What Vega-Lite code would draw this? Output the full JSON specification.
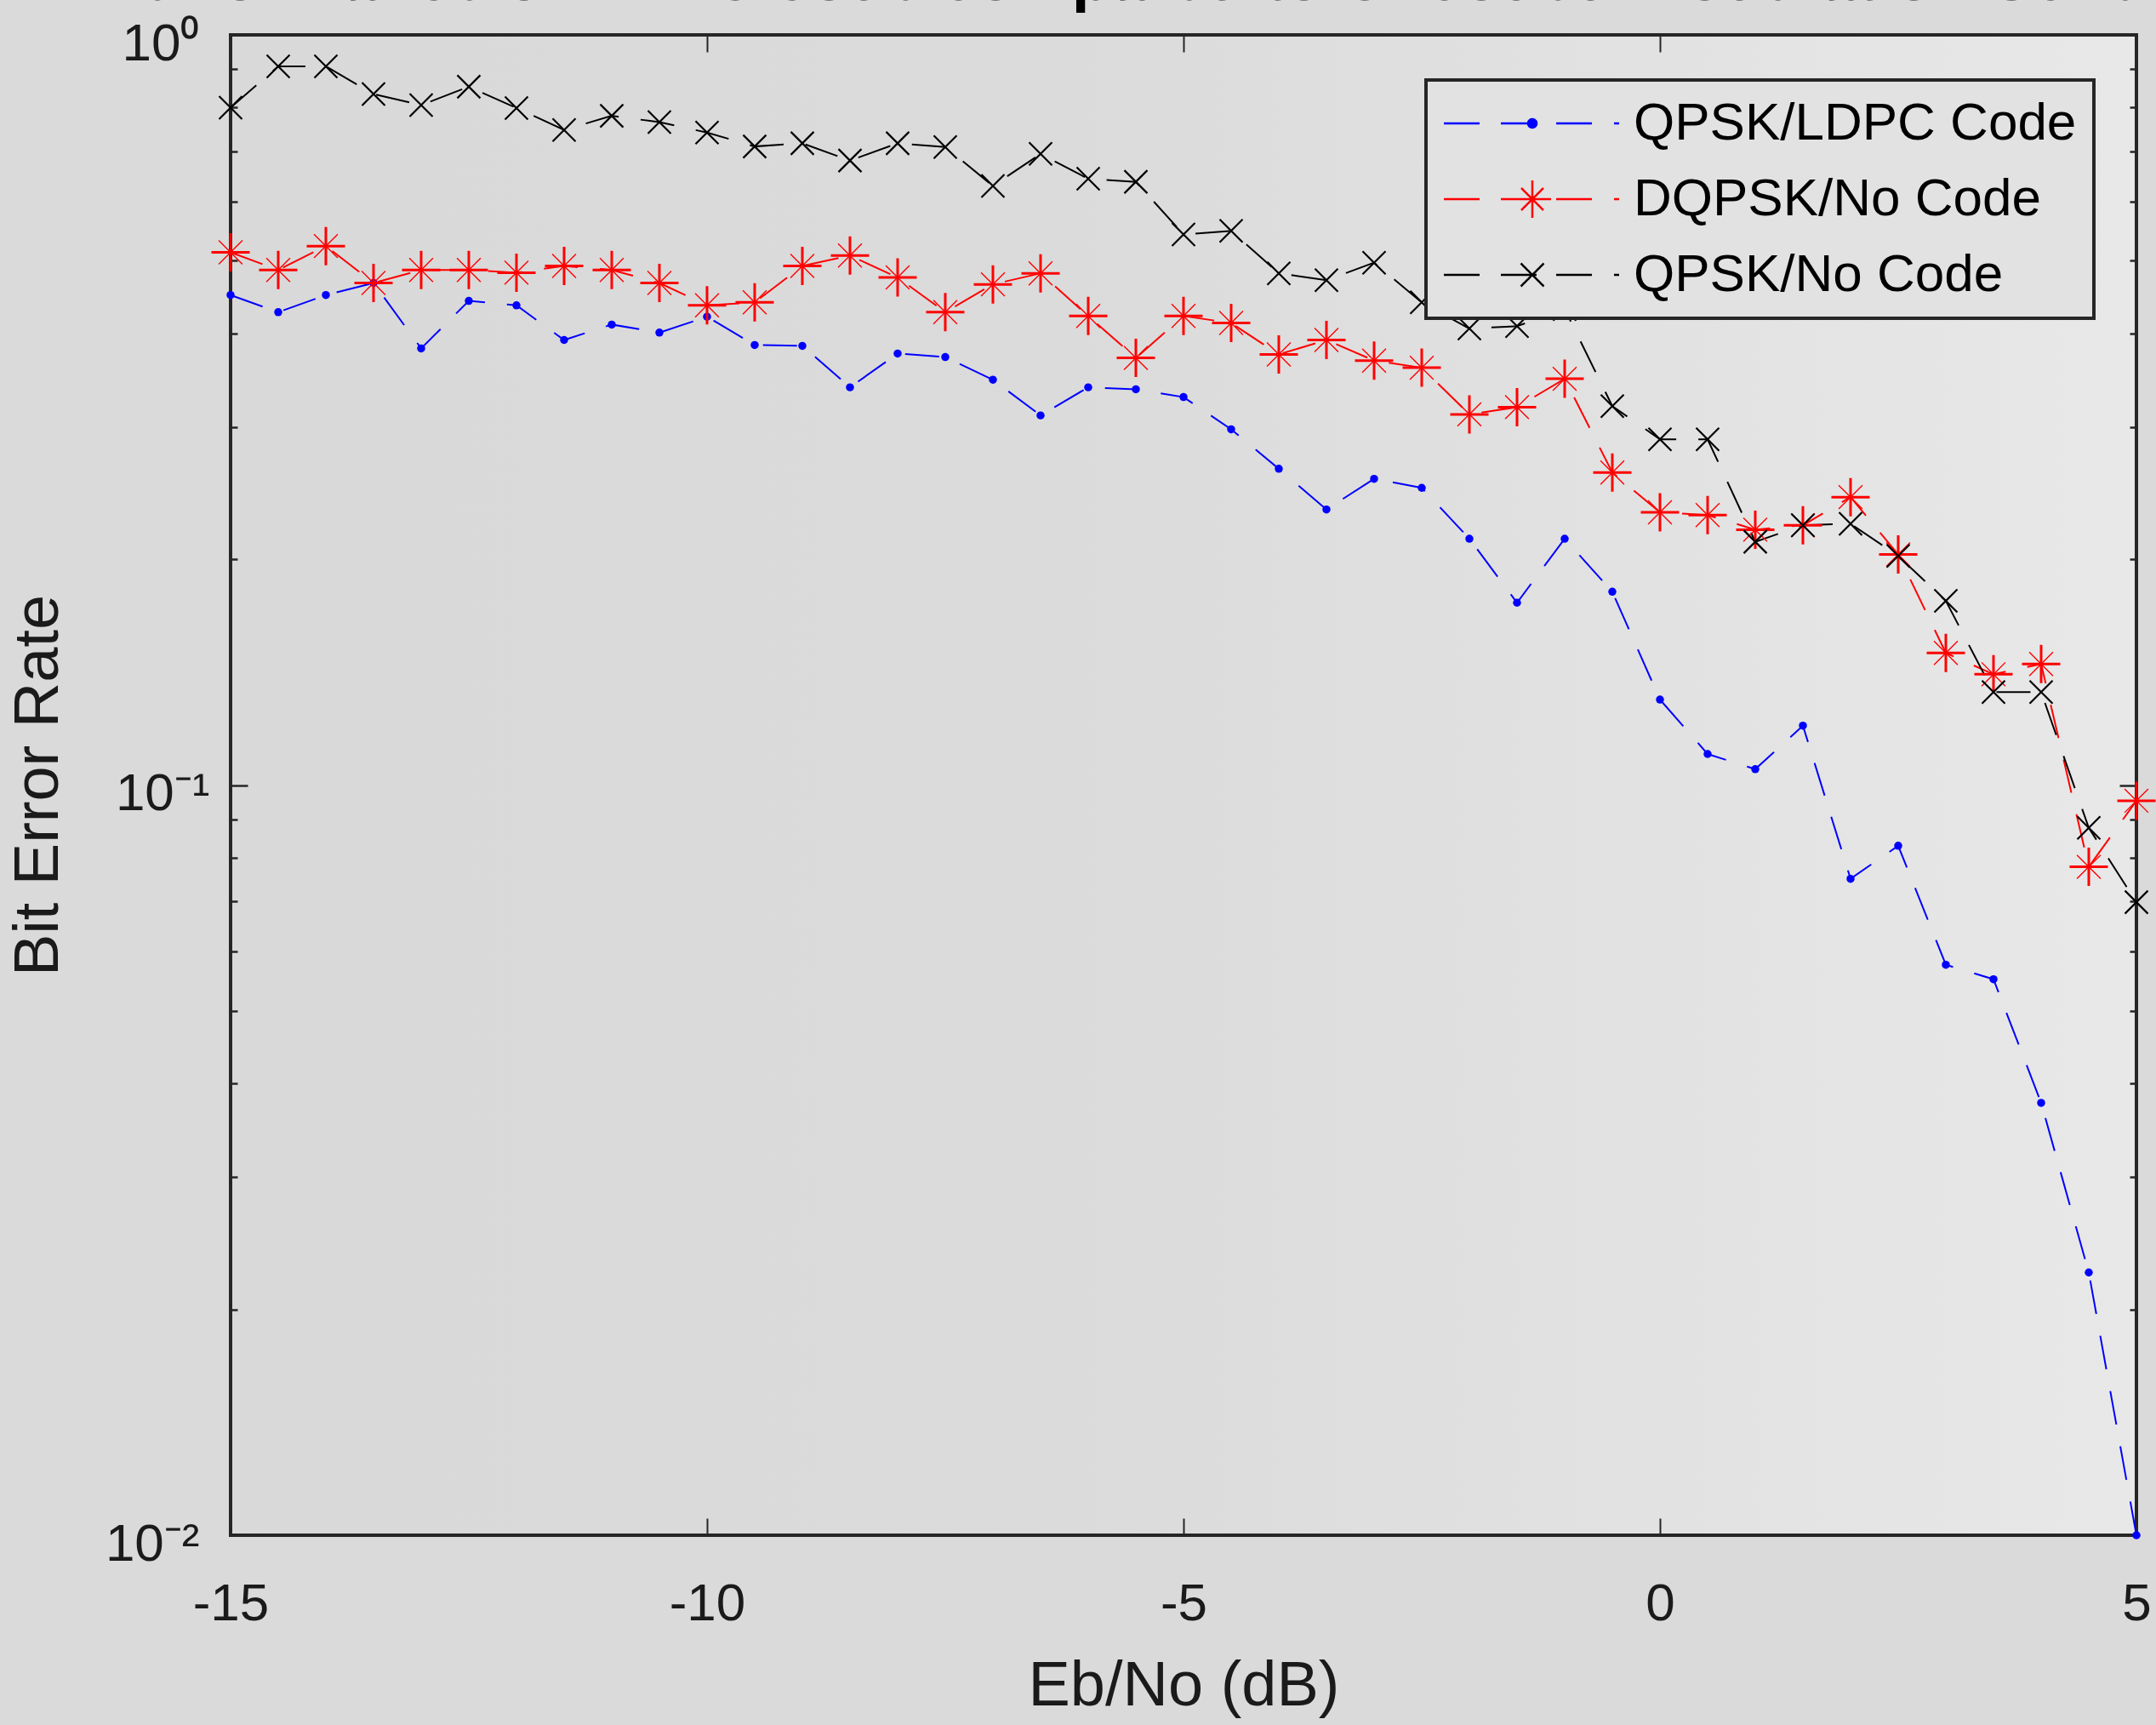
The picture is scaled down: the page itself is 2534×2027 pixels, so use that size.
{
  "$schema": "https://vega.github.io/schema/vega-lite/v6.json",
  "width": 2240,
  "height": 1763,
  "autosize": {"type": "none"},
  "padding": {"left": 271, "top": 41, "right": 23, "bottom": 223},
  "background": "#dadada",
  "title": {
    "text": "Performance of LDPC code compared to Uncoded Modulation Schemes",
    "anchor": "middle",
    "frame": "group",
    "font": "Liberation Sans",
    "fontSize": 75,
    "fontWeight": "bold",
    "color": "#000000",
    "baseline": "alphabetic",
    "offset": -27,
    "dy": 28
  },
  "datasets": {
    "ber": [
      {"series": "QPSK/LDPC Code", "ebno": -15, "ber": 0.450},
      {"series": "QPSK/LDPC Code", "ebno": -14.5, "ber": 0.427},
      {"series": "QPSK/LDPC Code", "ebno": -14, "ber": 0.450},
      {"series": "QPSK/LDPC Code", "ebno": -13.5, "ber": 0.467},
      {"series": "QPSK/LDPC Code", "ebno": -13, "ber": 0.382},
      {"series": "QPSK/LDPC Code", "ebno": -12.5, "ber": 0.442},
      {"series": "QPSK/LDPC Code", "ebno": -12, "ber": 0.436},
      {"series": "QPSK/LDPC Code", "ebno": -11.5, "ber": 0.392},
      {"series": "QPSK/LDPC Code", "ebno": -11, "ber": 0.411},
      {"series": "QPSK/LDPC Code", "ebno": -10.5, "ber": 0.401},
      {"series": "QPSK/LDPC Code", "ebno": -10, "ber": 0.421},
      {"series": "QPSK/LDPC Code", "ebno": -9.5, "ber": 0.386},
      {"series": "QPSK/LDPC Code", "ebno": -9, "ber": 0.385},
      {"series": "QPSK/LDPC Code", "ebno": -8.5, "ber": 0.339},
      {"series": "QPSK/LDPC Code", "ebno": -8, "ber": 0.376},
      {"series": "QPSK/LDPC Code", "ebno": -7.5, "ber": 0.372},
      {"series": "QPSK/LDPC Code", "ebno": -7, "ber": 0.347},
      {"series": "QPSK/LDPC Code", "ebno": -6.5, "ber": 0.311},
      {"series": "QPSK/LDPC Code", "ebno": -6, "ber": 0.339},
      {"series": "QPSK/LDPC Code", "ebno": -5.5, "ber": 0.337},
      {"series": "QPSK/LDPC Code", "ebno": -5, "ber": 0.329},
      {"series": "QPSK/LDPC Code", "ebno": -4.5, "ber": 0.298},
      {"series": "QPSK/LDPC Code", "ebno": -4, "ber": 0.264},
      {"series": "QPSK/LDPC Code", "ebno": -3.5, "ber": 0.233},
      {"series": "QPSK/LDPC Code", "ebno": -3, "ber": 0.256},
      {"series": "QPSK/LDPC Code", "ebno": -2.5, "ber": 0.249},
      {"series": "QPSK/LDPC Code", "ebno": -2, "ber": 0.213},
      {"series": "QPSK/LDPC Code", "ebno": -1.5, "ber": 0.175},
      {"series": "QPSK/LDPC Code", "ebno": -1, "ber": 0.213},
      {"series": "QPSK/LDPC Code", "ebno": -0.5, "ber": 0.181},
      {"series": "QPSK/LDPC Code", "ebno": 0, "ber": 0.130},
      {"series": "QPSK/LDPC Code", "ebno": 0.5, "ber": 0.110},
      {"series": "QPSK/LDPC Code", "ebno": 1, "ber": 0.105},
      {"series": "QPSK/LDPC Code", "ebno": 1.5, "ber": 0.120},
      {"series": "QPSK/LDPC Code", "ebno": 2, "ber": 0.075},
      {"series": "QPSK/LDPC Code", "ebno": 2.5, "ber": 0.083},
      {"series": "QPSK/LDPC Code", "ebno": 3, "ber": 0.0576},
      {"series": "QPSK/LDPC Code", "ebno": 3.5, "ber": 0.0551},
      {"series": "QPSK/LDPC Code", "ebno": 4, "ber": 0.0377},
      {"series": "QPSK/LDPC Code", "ebno": 4.5, "ber": 0.0224},
      {"series": "QPSK/LDPC Code", "ebno": 5, "ber": 0.0100},
      {"series": "DQPSK/No Code", "ebno": -15, "ber": 0.513},
      {"series": "DQPSK/No Code", "ebno": -14.5, "ber": 0.486},
      {"series": "DQPSK/No Code", "ebno": -14, "ber": 0.523},
      {"series": "DQPSK/No Code", "ebno": -13.5, "ber": 0.467},
      {"series": "DQPSK/No Code", "ebno": -13, "ber": 0.486},
      {"series": "DQPSK/No Code", "ebno": -12.5, "ber": 0.486},
      {"series": "DQPSK/No Code", "ebno": -12, "ber": 0.482},
      {"series": "DQPSK/No Code", "ebno": -11.5, "ber": 0.492},
      {"series": "DQPSK/No Code", "ebno": -11, "ber": 0.486},
      {"series": "DQPSK/No Code", "ebno": -10.5, "ber": 0.467},
      {"series": "DQPSK/No Code", "ebno": -10, "ber": 0.436},
      {"series": "DQPSK/No Code", "ebno": -9.5, "ber": 0.440},
      {"series": "DQPSK/No Code", "ebno": -9, "ber": 0.492},
      {"series": "DQPSK/No Code", "ebno": -8.5, "ber": 0.508},
      {"series": "DQPSK/No Code", "ebno": -8, "ber": 0.475},
      {"series": "DQPSK/No Code", "ebno": -7.5, "ber": 0.427},
      {"series": "DQPSK/No Code", "ebno": -7, "ber": 0.465},
      {"series": "DQPSK/No Code", "ebno": -6.5, "ber": 0.481},
      {"series": "DQPSK/No Code", "ebno": -6, "ber": 0.422},
      {"series": "DQPSK/No Code", "ebno": -5.5, "ber": 0.371},
      {"series": "DQPSK/No Code", "ebno": -5, "ber": 0.422},
      {"series": "DQPSK/No Code", "ebno": -4.5, "ber": 0.413},
      {"series": "DQPSK/No Code", "ebno": -4, "ber": 0.375},
      {"series": "DQPSK/No Code", "ebno": -3.5, "ber": 0.392},
      {"series": "DQPSK/No Code", "ebno": -3, "ber": 0.368},
      {"series": "DQPSK/No Code", "ebno": -2.5, "ber": 0.360},
      {"series": "DQPSK/No Code", "ebno": -2, "ber": 0.312},
      {"series": "DQPSK/No Code", "ebno": -1.5, "ber": 0.319},
      {"series": "DQPSK/No Code", "ebno": -1, "ber": 0.348},
      {"series": "DQPSK/No Code", "ebno": -0.5, "ber": 0.261},
      {"series": "DQPSK/No Code", "ebno": 0, "ber": 0.231},
      {"series": "DQPSK/No Code", "ebno": 0.5, "ber": 0.229},
      {"series": "DQPSK/No Code", "ebno": 1, "ber": 0.219},
      {"series": "DQPSK/No Code", "ebno": 1.5, "ber": 0.222},
      {"series": "DQPSK/No Code", "ebno": 2, "ber": 0.242},
      {"series": "DQPSK/No Code", "ebno": 2.5, "ber": 0.203},
      {"series": "DQPSK/No Code", "ebno": 3, "ber": 0.150},
      {"series": "DQPSK/No Code", "ebno": 3.5, "ber": 0.1405},
      {"series": "DQPSK/No Code", "ebno": 4, "ber": 0.145},
      {"series": "DQPSK/No Code", "ebno": 4.5, "ber": 0.0778},
      {"series": "DQPSK/No Code", "ebno": 5, "ber": 0.0953},
      {"series": "QPSK/No Code", "ebno": -15, "ber": 0.800},
      {"series": "QPSK/No Code", "ebno": -14.5, "ber": 0.908},
      {"series": "QPSK/No Code", "ebno": -14, "ber": 0.908},
      {"series": "QPSK/No Code", "ebno": -13.5, "ber": 0.834},
      {"series": "QPSK/No Code", "ebno": -13, "ber": 0.806},
      {"series": "QPSK/No Code", "ebno": -12.5, "ber": 0.853},
      {"series": "QPSK/No Code", "ebno": -12, "ber": 0.799},
      {"series": "QPSK/No Code", "ebno": -11.5, "ber": 0.747},
      {"series": "QPSK/No Code", "ebno": -11, "ber": 0.780},
      {"series": "QPSK/No Code", "ebno": -10.5, "ber": 0.765},
      {"series": "QPSK/No Code", "ebno": -10, "ber": 0.741},
      {"series": "QPSK/No Code", "ebno": -9.5, "ber": 0.710},
      {"series": "QPSK/No Code", "ebno": -9, "ber": 0.717},
      {"series": "QPSK/No Code", "ebno": -8.5, "ber": 0.680},
      {"series": "QPSK/No Code", "ebno": -8, "ber": 0.717},
      {"series": "QPSK/No Code", "ebno": -7.5, "ber": 0.709},
      {"series": "QPSK/No Code", "ebno": -7, "ber": 0.629},
      {"series": "QPSK/No Code", "ebno": -6.5, "ber": 0.694},
      {"series": "QPSK/No Code", "ebno": -6, "ber": 0.643},
      {"series": "QPSK/No Code", "ebno": -5.5, "ber": 0.637},
      {"series": "QPSK/No Code", "ebno": -5, "ber": 0.542},
      {"series": "QPSK/No Code", "ebno": -4.5, "ber": 0.548},
      {"series": "QPSK/No Code", "ebno": -4, "ber": 0.481},
      {"series": "QPSK/No Code", "ebno": -3.5, "ber": 0.471},
      {"series": "QPSK/No Code", "ebno": -3, "ber": 0.497},
      {"series": "QPSK/No Code", "ebno": -2.5, "ber": 0.440},
      {"series": "QPSK/No Code", "ebno": -2, "ber": 0.406},
      {"series": "QPSK/No Code", "ebno": -1.5, "ber": 0.409},
      {"series": "QPSK/No Code", "ebno": -1, "ber": 0.431},
      {"series": "QPSK/No Code", "ebno": -0.5, "ber": 0.320},
      {"series": "QPSK/No Code", "ebno": 0, "ber": 0.289},
      {"series": "QPSK/No Code", "ebno": 0.5, "ber": 0.289},
      {"series": "QPSK/No Code", "ebno": 1, "ber": 0.211},
      {"series": "QPSK/No Code", "ebno": 1.5, "ber": 0.222},
      {"series": "QPSK/No Code", "ebno": 2, "ber": 0.223},
      {"series": "QPSK/No Code", "ebno": 2.5, "ber": 0.202},
      {"series": "QPSK/No Code", "ebno": 3, "ber": 0.176},
      {"series": "QPSK/No Code", "ebno": 3.5, "ber": 0.133},
      {"series": "QPSK/No Code", "ebno": 4, "ber": 0.133},
      {"series": "QPSK/No Code", "ebno": 4.5, "ber": 0.0877},
      {"series": "QPSK/No Code", "ebno": 5, "ber": 0.0698}
    ]
  },
  "data": {"name": "ber"},
  "layer": [
    {
      "mark": {"type": "line", "strokeWidth": 2, "strokeDash": [40, 26], "clip": false},
      "encoding": {
        "x": {
          "field": "ebno", "type": "quantitative",
          "scale": {"domain": [-15, 5], "nice": false, "zero": false},
          "axis": {
            "orient": "bottom",
            "values": [-15, -10, -5, 0, 5],
            "labelExpr": "'' + datum.value",
            "tickSize": -20,
            "tickWidth": 2,
            "labelFontSize": 62,
            "labelPadding": 70,
            "labelFlush": false,
            "labelOverlap": false,
            "title": "Eb/No (dB)",
            "titleFontSize": 74,
            "titleFontWeight": "normal",
            "titlePadding": 30
          }
        },
        "y": {
          "field": "ber", "type": "quantitative",
          "scale": {"type": "log", "domain": [0.01, 1], "nice": false},
          "axis": {
            "orient": "left",
            "values": [0.01, 0.02, 0.03, 0.04, 0.05, 0.06, 0.07, 0.08, 0.09, 0.1, 0.2, 0.3, 0.4, 0.5, 0.6, 0.7, 0.8, 0.9, 1],
            "labelExpr": "datum.value === 1 ? '10⁰' : datum.value === 0.1 ? '10⁻¹' : datum.value === 0.01 ? '10⁻²' : ''",
            "tickSize": {"condition": {"test": "datum.value === 0.1", "value": -20}, "value": -8},
            "tickWidth": 2.5,
            "labelFontSize": 62,
            "labelPadding": 45,
            "labelOffset": 10,
            "labelFlush": false,
            "labelOverlap": false,
            "title": "Bit Error Rate",
            "titleFontSize": 74,
            "titleFontWeight": "normal",
            "titlePadding": 40
          }
        },
        "color": {
          "field": "series", "type": "nominal",
          "scale": {
            "domain": ["QPSK/LDPC Code", "DQPSK/No Code", "QPSK/No Code"],
            "range": ["#0000ff", "#ff0000", "#000000"]
          },
          "legend": {
            "orient": "none",
            "legendX": 1405,
            "legendY": 53,
            "title": null,
            "padding": 20,
            "rowPadding": 27,
            "symbolSize": 400,
            "symbolStrokeWidth": 2.5,
            "symbolOffset": 74,
            "labelOffset": 88,
            "labelFontSize": 62,
            "labelFont": "Liberation Sans",
            "labelColor": "#000000",
            "labelLimit": 2000,
            "strokeColor": "#262626",
            "fillColor": "#e2e2e2",
            "encode": {
              "symbols": {
                "update": {
                  "shape": {"signal": "datum.value === 'QPSK/LDPC Code' ? 'M-10.4,0L-6.2,0M-3.7,0L0.5,0M2.8,0L7,0M9.6,0L10.2,0M-0.5,0A0.5,0.5,0,1,1,0.5,0A0.5,0.5,0,1,1,-0.5,0Z' : datum.value === 'DQPSK/No Code' ? 'M-10.4,0L-6.2,0M-3.7,0L0.5,0M2.8,0L7,0M9.6,0L10.2,0M-2.2,0L2.2,0M0,-2.2L0,2.2M-1.3,-1.3L1.3,1.3M-1.3,1.3L1.3,-1.3' : 'M-10.4,0L-6.2,0M-3.7,0L0.5,0M2.8,0L7,0M9.6,0L10.2,0M-1.35,-1.35L1.35,1.35M-1.35,1.35L1.35,-1.35'"},
                  "fill": {"signal": "datum.value === 'QPSK/LDPC Code' ? '#0000ff' : 'transparent'"},
                  "strokeDash": {"value": [1, 0]}
                }
              },
              "legend": {
                "update": {"strokeWidth": {"value": 4}}
              }
            }
          }
        }
      }
    },
    {
      "transform": [{"filter": "datum.series === 'QPSK/LDPC Code'"}],
      "mark": {"type": "point", "shape": "circle", "filled": true, "size": 90, "color": "#0000ff", "opacity": 1, "clip": false},
      "encoding": {
        "x": {
          "field": "ebno", "type": "quantitative",
          "axis": {
            "orient": "top",
            "values": [-15, -10, -5, 0, 5],
            "labels": false,
            "tickSize": -20,
            "tickWidth": 2,
            "title": null
          }
        },
        "y": {
          "field": "ber", "type": "quantitative",
          "axis": {
            "orient": "right",
            "values": [0.01, 0.02, 0.03, 0.04, 0.05, 0.06, 0.07, 0.08, 0.09, 0.1, 0.2, 0.3, 0.4, 0.5, 0.6, 0.7, 0.8, 0.9, 1],
            "labels": false,
            "tickSize": {"condition": {"test": "datum.value === 0.1", "value": -20}, "value": -8},
            "tickWidth": 2.5,
            "title": null
          }
        }
      }
    },
    {
      "transform": [{"filter": "datum.series === 'DQPSK/No Code'"}],
      "mark": {"type": "point", "shape": "M-1,0L1,0M0,-1L0,1", "filled": false, "size": 2025, "color": "#ff0000", "strokeWidth": 3, "opacity": 1, "clip": false},
      "encoding": {
        "x": {"field": "ebno", "type": "quantitative", "axis": null},
        "y": {"field": "ber", "type": "quantitative", "axis": null}
      }
    },
    {
      "transform": [{"filter": "datum.series === 'DQPSK/No Code'"}],
      "mark": {"type": "point", "shape": "M-0.62,-0.62L0.62,0.62M-0.62,0.62L0.62,-0.62", "filled": false, "size": 2025, "color": "#ff0000", "strokeWidth": 1.4, "opacity": 1, "clip": false},
      "encoding": {
        "x": {"field": "ebno", "type": "quantitative", "axis": null},
        "y": {"field": "ber", "type": "quantitative", "axis": null}
      }
    },
    {
      "transform": [{"filter": "datum.series === 'QPSK/No Code'"}],
      "mark": {"type": "point", "shape": "M-1,-1L1,1M-1,1L1,-1", "filled": false, "size": 729, "color": "#000000", "strokeWidth": 2.2, "opacity": 1, "clip": false},
      "encoding": {
        "x": {"field": "ebno", "type": "quantitative", "axis": null},
        "y": {"field": "ber", "type": "quantitative", "axis": null}
      }
    }
  ],
  "resolve": {"axis": {"x": "independent", "y": "independent"}},
  "config": {
    "font": "Liberation Sans",
    "view": {
      "stroke": "#262626",
      "strokeWidth": 4,
      "fill": {
        "gradient": "linear",
        "x1": 0, "y1": 0, "x2": 1, "y2": 0,
        "stops": [
          {"offset": 0, "color": "#d9d9d9"},
          {"offset": 0.45, "color": "#dbdbdb"},
          {"offset": 1, "color": "#e8e8e8"}
        ]
      }
    },
    "axis": {
      "domain": false,
      "grid": false,
      "tickColor": "#262626",
      "labelFont": "Liberation Sans",
      "titleFont": "Liberation Sans",
      "labelColor": "#1a1a1a",
      "titleColor": "#1a1a1a"
    }
  }
}
